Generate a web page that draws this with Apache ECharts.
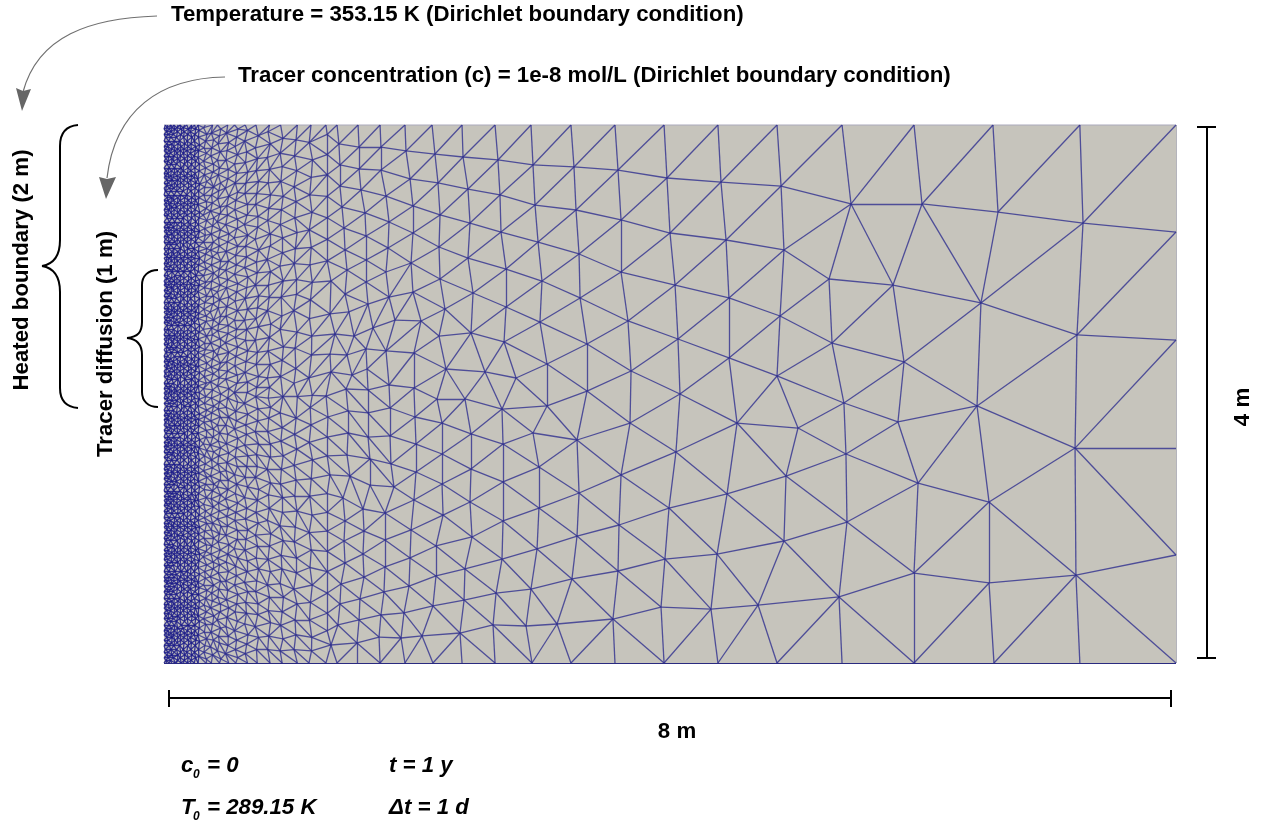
<!DOCTYPE html>
<html><head><meta charset="utf-8">
<style>html,body{margin:0;padding:0;background:#fff}#c{width:1263px;height:825px}</style>
<script src="https://cdn.jsdelivr.net/npm/echarts@6/dist/echarts.min.js"></script>
</head><body><div id="c"></div>
<script>
// Mesh nodes, in metres: domain 8 m x 4 m
const domainX = [0, 8];
const domainY = [0, 4];
const readNodes = [
[8,4],[8,3.204],[8,2.401],[8,1.598],[8,.803],[8,0],
[7.24,4],[7.265,3.271],[7.217,2.439],[7.202,1.598],[7.209,.654],[7.24,0],
[6.553,4],[6.593,3.353],[6.458,2.677],[6.427,1.911],[6.522,1.197],[6.522,.595],[6.561,0],
[5.929,4],[5.992,3.413],[5.763,2.81],[5.85,2.238],[5.802,1.792],[5.961,1.338],[5.929,.669],[5.929,0],
[5.36,4],[5.431,3.413],[5.257,2.855],[5.281,2.379],[5.375,1.933],[5.391,1.554],[5.399,1.048],[5.336,.491],[5.36,0],
[4.846,4],[4.878,3.546],[4.901,3.071],[4.87,2.58],[4.846,2.134],[5.012,1.747],[4.917,1.39],[4.901,.907],[4.696,.431],[4.846,0],
[4.379,4],[4.403,3.576],[4.443,3.145],[4.466,2.714],[4.466,2.268],[4.53,1.784],[4.451,1.257],[4.372,.81],[4.324,.401],[4.379,0],
[3.953,4],[3.976,3.606],[4,3.197],[4.04,2.81],[4.063,2.409],[4.079,2],[4.047,1.569],[3.992,1.152],[3.96,.773],[3.929,.416],[3.953,0],
[3.565,4],[3.589,3.665],[3.613,3.294],[3.613,2.907],[3.668,2.543],[3.692,2.171],[3.684,1.784],[3.613,1.398],[3.597,1.026],[3.589,.684],[3.549,.327],[3.565,0],
[3.217,4],[3.241,3.688],[3.257,3.368],[3.281,3.041],[3.289,2.714],[3.344,2.372],[3.344,2.022],[3.265,1.658],[3.281,1.264],[3.265,.944],[3.225,.625],[3.107,.29],[3.217,0],
[2.901,4],[2.917,3.703],[2.933,3.405],[2.957,3.13],[2.988,2.84],[2.972,2.535],[3.028,2.223],[3.028,1.911],[2.917,1.71],[2.964,1.457],[2.964,1.152],[2.949,.848],[2.901,.55],[2.862,.275],[2.909,0],
[2.617,4],[2.64,3.74],[2.656,3.48],[2.664,3.204],[2.704,2.929],[2.704,2.647],[2.688,2.387],[2.783,2.119],[2.672,1.888],[2.68,1.628],[2.68,1.346],[2.68,1.056],[2.672,.773],[2.625,.52],[2.601,.283],[2.617,0],
[2.356,4],[2.364,3.762],[2.403,3.524],[2.419,3.271],[2.403,3.011],[2.443,2.751],[2.427,2.454],[2.538,2.164],[2.379,1.963],[2.427,1.703],[2.427,1.442],[2.419,1.197],[2.435,.937],[2.379,.699],[2.372,.468],[2.34,.223],[2.356,0],
[2.119,4],[2.142,3.784],[2.166,3.569],[2.182,3.331],[2.174,3.093],[2.182,2.855],[2.221,2.632],[2.174,2.431],[2.229,2.186],[2.158,1.963],[2.198,1.784],[2.198,1.554],[2.198,1.331],[2.206,1.1],[2.15,.87],[2.15,.647],[2.126,.424],[2.04,.201],[2.126,0],
[1.905,4],[1.913,3.807],[1.945,3.599],[1.968,3.398],[1.968,3.197],[1.953,2.974],[1.968,2.758],[2.032,2.543],[1.976,2.305],[1.976,2.045],[1.984,1.829],[1.992,1.628],[1.992,1.42],[1.976,1.212],[1.953,.989],[1.945,.781],[1.937,.572],[1.897,.372],[1.874,.186],[1.905,0],
[1.708,4],[1.715,3.836],[1.715,3.665],[1.755,3.472],[1.779,3.279],[1.771,3.086],[1.755,2.907],[1.779,2.721],[1.826,2.55],[1.755,2.32],[1.779,2.067],[1.787,1.896],[1.787,1.688],[1.794,1.48],[1.818,1.309],[1.747,1.115],[1.747,.915],[1.747,.714],[1.739,.528],[1.715,.357],[1.7,.193],[1.708,0],
[1.534,4],[1.542,3.836],[1.542,3.673],[1.557,3.517],[1.589,3.346],[1.597,3.175],[1.597,2.996],[1.597,2.833],[1.613,2.669],[1.652,2.491],[1.597,2.335],[1.605,2.186],[1.613,2.03],[1.613,1.859],[1.613,1.68],[1.628,1.517],[1.628,1.323],[1.573,1.145],[1.581,.981],[1.573,.81],[1.581,.639],[1.549,.476],[1.542,.32],[1.526,.149],[1.526,0],
[1.368,4],[1.383,3.859],[1.391,3.703],[1.391,3.546],[1.407,3.39],[1.423,3.234],[1.431,3.071],[1.447,2.922],[1.431,2.743],[1.462,2.61],[1.502,2.431],[1.447,2.29],[1.486,2.141],[1.439,2.037],[1.455,1.874],[1.455,1.71],[1.447,1.546],[1.47,1.39],[1.415,1.227],[1.431,1.056],[1.423,.907],[1.431,.744],[1.399,.587],[1.391,.439],[1.375,.283],[1.368,0],
[1.32,2.84],[1.312,2.595],[1.352,2.446],[1.312,2.297],[1.32,2.164],[1.281,1.985],[1.296,1.829],[1.312,1.398],[1.32,.134],
[1.28,4],[1.29,3.93],[1.29,3.78],[1.29,3.63],[1.29,3.47],[1.29,3.31],[1.29,3.15],[1.29,2.99],[1.29,1.68],[1.29,1.54],[1.29,1.26],[1.29,1.12],[1.29,.98],[1.29,.83],[1.29,.68],[1.29,.52],[1.29,.37],[1.29,.24],[1.28,0]
];
// Dense columns beside the heated wall: each column's x and its row heights (m)
const rowsA = [0,.04,.08,.13,.17,.21,.24,.28,.33,.37,.41,.44,.48,.53,.57,.61,.64,.68,.73,.77,.81,.84,.88,.93,.97,1.01,1.04,1.08,1.13,1.17,1.21,1.24,1.28,1.33,1.37,1.41,1.44,1.48,1.53,1.57,1.61,1.64,1.68,1.73,1.77,1.81,1.84,1.88,1.93,1.97,2.01,2.04,2.08,2.13,2.17,2.21,2.24,2.28,2.33,2.37,2.41,2.44,2.48,2.53,2.57,2.61,2.64,2.68,2.73,2.77,2.81,2.84,2.88,2.93,2.97,3.01,3.04,3.08,3.13,3.17,3.21,3.24,3.28,3.33,3.37,3.41,3.44,3.48,3.53,3.57,3.61,3.64,3.68,3.73,3.77,3.81,3.84,3.88,3.93,3.97,4];
const rowsB = [0,.02,.06,.1,.15,.19,.22,.26,.31,.35,.39,.42,.46,.51,.55,.59,.62,.66,.71,.75,.79,.82,.86,.91,.95,.99,1.02,1.06,1.11,1.15,1.19,1.22,1.26,1.31,1.35,1.39,1.42,1.46,1.51,1.55,1.59,1.62,1.66,1.71,1.75,1.79,1.82,1.86,1.91,1.95,1.99,2.02,2.06,2.11,2.15,2.19,2.22,2.26,2.31,2.35,2.39,2.42,2.46,2.51,2.55,2.59,2.62,2.66,2.71,2.75,2.79,2.82,2.86,2.91,2.95,2.99,3.02,3.06,3.11,3.15,3.19,3.22,3.26,3.31,3.35,3.39,3.42,3.46,3.51,3.55,3.59,3.62,3.66,3.71,3.75,3.79,3.82,3.86,3.91,3.95,3.98,4];
const rowsC = [0,.05,.1,.16,.21,.26,.31,.35,.41,.46,.51,.56,.6,.66,.71,.76,.81,.85,.91,.96,1.01,1.06,1.1,1.16,1.21,1.26,1.31,1.35,1.41,1.46,1.51,1.56,1.6,1.66,1.71,1.76,1.81,1.85,1.91,1.96,2.01,2.06,2.1,2.16,2.21,2.26,2.31,2.35,2.41,2.46,2.51,2.56,2.6,2.66,2.71,2.76,2.81,2.85,2.91,2.96,3.01,3.06,3.1,3.16,3.21,3.26,3.31,3.35,3.41,3.46,3.51,3.56,3.6,3.66,3.71,3.76,3.81,3.85,3.91,3.96,4];
const rowsD = [0,.03,.08,.13,.18,.23,.29,.33,.38,.43,.48,.54,.58,.63,.68,.73,.79,.83,.88,.93,.98,1.04,1.08,1.13,1.18,1.23,1.29,1.33,1.38,1.43,1.48,1.54,1.58,1.63,1.68,1.73,1.79,1.83,1.88,1.93,1.98,2.04,2.08,2.13,2.18,2.23,2.29,2.33,2.38,2.43,2.48,2.54,2.58,2.63,2.68,2.73,2.79,2.83,2.88,2.93,2.98,3.04,3.08,3.13,3.18,3.23,3.29,3.33,3.38,3.43,3.48,3.54,3.58,3.63,3.68,3.73,3.79,3.83,3.88,3.93,3.98,4];
const rowsE = [0,.06,.12,.17,.23,.29,.35,.41,.46,.52,.58,.64,.7,.75,.81,.87,.93,.99,1.04,1.1,1.16,1.22,1.28,1.33,1.39,1.45,1.51,1.57,1.62,1.68,1.74,1.8,1.86,1.91,1.97,2.03,2.09,2.15,2.2,2.26,2.32,2.38,2.44,2.49,2.55,2.61,2.67,2.73,2.78,2.84,2.9,2.96,3.02,3.07,3.13,3.19,3.25,3.31,3.36,3.42,3.48,3.54,3.6,3.65,3.71,3.77,3.83,3.89,3.94,4];
const rowsF = [0,.03,.09,.15,.2,.26,.32,.38,.44,.49,.55,.61,.67,.73,.78,.84,.9,.96,1.02,1.07,1.13,1.19,1.25,1.31,1.36,1.42,1.48,1.54,1.6,1.65,1.71,1.77,1.83,1.89,1.94,2,2.06,2.12,2.18,2.23,2.29,2.35,2.41,2.47,2.52,2.58,2.64,2.7,2.76,2.81,2.87,2.93,2.99,3.05,3.1,3.16,3.22,3.28,3.34,3.39,3.45,3.51,3.57,3.63,3.68,3.74,3.8,3.86,3.92,3.97,4];
const rowsG = [0,.07,.13,.2,.27,.34,.41,.47,.54,.61,.68,.75,.81,.88,.95,1.02,1.09,1.15,1.22,1.29,1.36,1.43,1.49,1.56,1.63,1.7,1.77,1.83,1.9,1.97,2.04,2.11,2.17,2.24,2.31,2.38,2.45,2.51,2.58,2.65,2.72,2.79,2.85,2.92,2.99,3.06,3.13,3.19,3.26,3.33,3.4,3.47,3.53,3.6,3.67,3.74,3.81,3.87,3.94,4];
const rowsH = [0,.04,.1,.17,.24,.31,.38,.44,.51,.58,.65,.72,.78,.85,.92,.99,1.06,1.12,1.19,1.26,1.33,1.4,1.46,1.53,1.6,1.67,1.74,1.8,1.87,1.94,2.01,2.08,2.14,2.21,2.28,2.35,2.42,2.48,2.55,2.62,2.69,2.76,2.82,2.89,2.96,3.03,3.1,3.16,3.23,3.3,3.37,3.44,3.5,3.57,3.64,3.71,3.78,3.84,3.91,3.97,4];
const rowsAt065 = [0,.07,.14,.21,.29,.37,.45,.53,.6,.68,.76,.84,.92,.99,1.07,1.15,1.23,1.31,1.38,1.46,1.54,1.62,1.7,1.77,1.85,1.93,2.01,2.09,2.16,2.24,2.32,2.4,2.48,2.55,2.63,2.71,2.79,2.87,2.94,3.02,3.1,3.18,3.26,3.33,3.41,3.49,3.57,3.65,3.72,3.8,3.88,3.96,4];
const rowsAt0735 = [0,.1,.19,.27,.36,.44,.53,.61,.7,.78,.87,.95,1.04,1.12,1.21,1.29,1.38,1.46,1.55,1.63,1.72,1.8,1.89,1.98,2.05,2.13,2.22,2.31,2.4,2.5,2.56,2.64,2.73,2.81,2.9,2.98,3.07,3.15,3.24,3.32,3.41,3.49,3.58,3.66,3.75,3.83,3.92,4];
const rowsAt083 = [0,.1,.2,.3,.39,.49,.58,.68,.77,.87,.96,1.06,1.15,1.25,1.34,1.44,1.53,1.63,1.72,1.82,1.9,1.97,2.05,2.12,2.22,2.32,2.42,2.52,2.62,2.72,2.81,2.91,3,3.1,3.19,3.29,3.38,3.48,3.57,3.67,3.76,3.86,3.95,4];
const rowsAt093 = [0,.09,.18,.28,.38,.49,.59,.7,.8,.91,1.02,1.12,1.23,1.33,1.44,1.54,1.65,1.75,1.86,1.98,2.13,2.25,2.35,2.48,2.58,2.72,2.84,2.95,3.05,3.16,3.26,3.37,3.47,3.58,3.69,3.79,3.9,4];
const rowsAt104 = [0,.1,.21,.32,.44,.55,.67,.78,.9,1.01,1.13,1.24,1.36,1.47,1.59,1.7,1.82,1.98,2.08,2.19,2.34,2.46,2.62,2.74,2.85,2.97,3.08,3.2,3.31,3.43,3.54,3.66,3.77,3.89,4];
const rowsAt116 = [0,.09,.19,.32,.45,.58,.71,.84,.97,1.1,1.24,1.37,1.51,1.64,1.77,1.9,1.99,2.12,2.29,2.43,2.56,2.7,2.83,2.96,3.09,3.22,3.35,3.48,3.61,3.74,3.87,4];
const denseColumnX = [0,.018,.036,.058,.08,.105,.13,.158,.186,.215,.245,.275,.325,.38,.435,.5,.57,.65,.735,.83,.93,1.04,1.16];
const denseColumnRows = [rowsA,rowsB,rowsA,rowsB,rowsA,rowsB,rowsA,rowsB,rowsA,rowsB,rowsA,rowsC,rowsD,rowsE,rowsF,rowsG,rowsH,rowsAt065,rowsAt0735,rowsAt083,rowsAt093,rowsAt104,rowsAt116];
// Small sideways offsets (m) of dense nodes: the picture's columns are not straight
const columnWobble = [.005,-.004,.002,.007,-.006,.001,-.002,.006,-.007,.003,.004,-.005,-.001,.006,-.003,.002,-.006];
// Edges of the picture's mesh that differ from the triangulation of the nodes
const forcedEdges = [
 [3.953,0,4.324,.401],[4.379,0,4.696,.431],[4.846,0,5.336,.491],[5.929,0,6.522,.595],[6.561,0,7.209,.654],
 [3.217,0,3.549,.327],[2.909,0,3.107,.29],[5.929,.669,6.522,1.197],[5.992,3.413,6.458,2.677],
 [1.905,0,2.04,.201],[2.126,0,2.34,.223],[1.708,0,1.874,.186],[1.368,0,1.526,.149]
];

const textItems = [
 ['Temperature = 353.15 K (Dirichlet boundary condition)',171,14.5,'bold',0],
 ['Tracer concentration (c) = 1e-8 mol/L (Dirichlet boundary condition)',238,76,'bold',0],
 ['Heated boundary (2 m)',22,270,'bold',90],
 ['Tracer diffusion (1 m)',106,344,'bold',90],
 ['4 m',1243,407,'bold',90],
 ['8 m',677,732,'bold',0],
 ['c',181,766,'italic bold',0],
 ['= 0',207,766,'italic bold',0],
 ['T',181,808,'italic bold',0],
 ['= 289.15 K',207,808,'italic bold',0],
 ['t = 1 y',389,766,'italic bold',0],
 ['Δt = 1 d',389,808,'italic bold',0]
];

function triangulate(pts){
  const idx = pts.map((p,i)=>i).sort((a,b)=>pts[a][0]-pts[b][0]);
  const P = pts.concat([[-500,-500],[600,-500],[4,800]]);
  const n = pts.length;
  function mk(a,b,c){
    const ax=P[a][0],ay=P[a][1],bx=P[b][0]-ax,by=P[b][1]-ay,cx=P[c][0]-ax,cy=P[c][1]-ay;
    const d=2*(bx*cy-by*cx);
    if(Math.abs(d)<1e-12) return {a,b,c,x:ax,y:ay,r:Infinity};
    const b2=bx*bx+by*by,c2=cx*cx+cy*cy;
    const ux=(cy*b2-by*c2)/d,uy=(bx*c2-cx*b2)/d;
    return {a,b,c,x:ax+ux,y:ay+uy,r:ux*ux+uy*uy};
  }
  let open=[mk(n,n+1,n+2)]; const done=[];
  for(const i of idx){
    const px=P[i][0],py=P[i][1]; const edges=new Map(); const next=[];
    for(const t of open){
      const dx=px-t.x;
      if(t.r!==Infinity && dx>0 && dx*dx>t.r){done.push(t);continue;}
      const dy=py-t.y;
      if(t.r===Infinity || dx*dx+dy*dy<t.r*(1-1e-10)){
        for(const [u,v] of [[t.a,t.b],[t.b,t.c],[t.c,t.a]]){
          const k=u<v?u+'_'+v:v+'_'+u; edges.set(k,(edges.get(k)||0)+1);
        }
      } else next.push(t);
    }
    for(const [k,c] of edges){ if(c===1){ const [u,v]=k.split('_').map(Number); next.push(mk(u,v,i)); } }
    open=next;
  }
  const set=new Map();
  for(const t of done.concat(open)){
    if(t.r===Infinity) continue;
    for(const [u,v] of [[t.a,t.b],[t.b,t.c],[t.c,t.a]]){
      if(u>=n||v>=n) continue;
      set.set(u<v?u+'_'+v:v+'_'+u,[u,v]);
    }
  }
  return set;
}
const nodes = readNodes.slice();
denseColumnX.forEach((x,i)=>denseColumnRows[i].forEach((y,r)=>{
  const w = x===0 ? 0 : columnWobble[(r+i*5)%columnWobble.length]*(x<.3?1:2);
  nodes.push([x+w,y]);
}));
// The mesh's diagonals lean "/" above mid-height and "\" below: a chevron shear favours them
const edgeSet = triangulate(nodes.map(p=>[p[0]-0.25*Math.abs(p[1]-2),p[1]]));
function nearest(x,y){let b=0,bd=1e9;nodes.forEach((p,i)=>{const d=(p[0]-x)**2+(p[1]-y)**2;if(d<bd){bd=d;b=i}});return b}
function crosses(a,b,c,d){const o=(p,q,r)=>(q[0]-p[0])*(r[1]-p[1])-(q[1]-p[1])*(r[0]-p[0]);
  return o(a,b,c)*o(a,b,d)<0 && o(c,d,a)*o(c,d,b)<0}
forcedEdges.forEach(e=>{const u=nearest(e[0],e[1]),v=nearest(e[2],e[3]);
  for(const [k,[p,q]] of edgeSet){ if(crosses(nodes[u],nodes[v],nodes[p],nodes[q])) edgeSet.delete(k); }
  edgeSet.set(u<v?u+'_'+v:v+'_'+u,[u,v]);});
const onOuter=(a,b)=>(a[0]===8&&b[0]===8)||(a[0]===0&&b[0]===0)||(a[1]===4&&b[1]===4)||(a[1]===0&&b[1]===0);
const inner=[...edgeSet.values()].filter(([u,v])=>!onOuter(nodes[u],nodes[v]));
const fineLimit=.3;
const fineEdges=inner.filter(([u,v])=>nodes[u][0]<fineLimit&&nodes[v][0]<fineLimit).map(([u,v])=>({coords:[nodes[u],nodes[v]]}));
const openEdges=inner.filter(([u,v])=>!(nodes[u][0]<fineLimit&&nodes[v][0]<fineLimit)).map(([u,v])=>({coords:[nodes[u],nodes[v]]}));

const black='#000', arrow='#666666';
function curve(p,c,w){return {type:'bezierCurve',silent:true,shape:{x1:p[0],y1:p[1],cpx1:p[2],cpy1:p[3],cpx2:p[4],cpy2:p[5],x2:p[6],y2:p[7]},style:{fill:'none',stroke:c,lineWidth:w}};}
function seg(p,c,w){return {type:'line',silent:true,shape:{x1:p[0],y1:p[1],x2:p[2],y2:p[3]},style:{stroke:c,lineWidth:w}};}
function head(pts,c){return {type:'polygon',silent:true,shape:{points:pts},style:{fill:c,stroke:'none'}};}
const FONT='"Liberation Sans",Arial,sans-serif';
const texts=textItems.map(t=>({type:'text',silent:true,x:t[1],y:t[2],rotation:t[4]?Math.PI/2:0,
  style:{text:t[0],fill:'#000',font:t[3]+' 22.25px '+FONT,align:t[4]||t[0]==='8 m'?'center':'left',verticalAlign:'middle'}}));
const subs=[[193,775],[193,817]].map(p=>({type:'text',silent:true,x:p[0],y:p[1],style:{text:'0',fill:'#000',font:'italic bold 12px '+FONT,align:'left',verticalAlign:'middle'}}));
const g=[
 seg([164,125,1176,125],'#aaa9bb',1),seg([1176.5,125,1176.5,663],'#b4b4bc',1),seg([164,663.5,1176,663.5],'#2a2a80',1),
 curve([157,16,90,18,38,36,23,92],'#707070',1.2),
 head([[16,88],[23,91],[31,89],[22,111]],arrow),
 curve([225,77,160,78,115,110,107,178],'#707070',1.2),
 head([[99,177],[107,179],[116,177],[106,199]],arrow),
 curve([78,125,66,126,60,133,60,146],black,2),seg([60,146,60,240],black,2),curve([60,240,60,255,54,264,42,266],black,2),
 curve([42,266,54,268,60,277,60,292],black,2),seg([60,292,60,388],black,2),curve([60,388,60,400,66,407,78,408],black,2),
 curve([158,270,148,270,142,276,142,285],black,2),seg([142,285,142,322],black,2),curve([142,322,142,332,138,337,127,338],black,2),
 curve([127,338,138,339,142,345,142,355],black,2),seg([142,355,142,392],black,2),curve([142,392,142,401,148,407,158,407],black,2),
 seg([1207,127,1207,658],black,2),seg([1197,127,1216,127],black,2),seg([1197,658,1216,658],black,2),
 seg([169,698,1171,698],black,2),seg([169,690,169,707],black,2),seg([1171,690,1171,707],black,2)
].concat(texts,subs);

const chart=echarts.init(document.getElementById('c'),null,{renderer:'canvas',width:1263,height:825});
chart.setOption({
 animation:false,backgroundColor:'#ffffff',
 grid:{left:164,top:125,width:1012,height:538,show:true,backgroundColor:'#c6c4bc',borderWidth:0},
 xAxis:{type:'value',min:domainX[0],max:domainX[1],show:false},
 yAxis:{type:'value',min:domainY[0],max:domainY[1],show:false},
 series:[
  {type:'lines',name:'mesh',coordinateSystem:'cartesian2d',silent:true,polyline:false,progressive:0,
   lineStyle:{color:'#30308e',width:1.3,opacity:0.8,curveness:0},data:openEdges},
  {type:'lines',name:'dense mesh',coordinateSystem:'cartesian2d',silent:true,polyline:false,progressive:0,
   lineStyle:{color:'#1c1c8a',width:1.3,opacity:0.85,curveness:0},data:fineEdges}],
 graphic:{elements:g}
});
</script></body></html>
